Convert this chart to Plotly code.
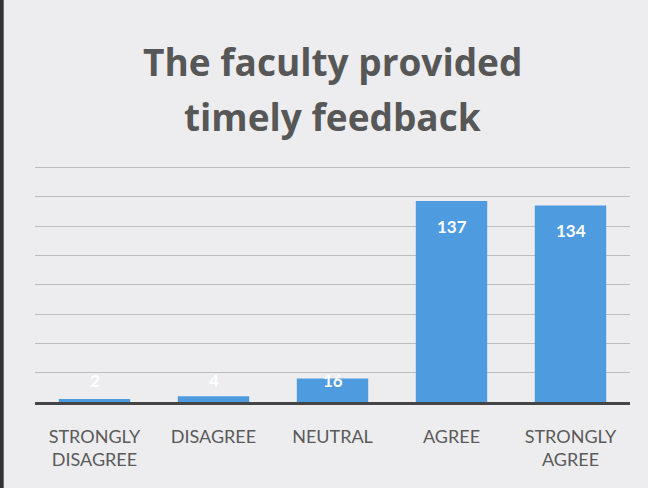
import plotly.graph_objects as go

categories = ["STRONGLY<br>DISAGREE", "DISAGREE", "NEUTRAL", "AGREE", "STRONGLY<br>AGREE"]
values = [2, 4, 16, 137, 134]
title_lines = ["The faculty provided", "timely feedback"]

Y_MAX = 163
PLOT_H = 239
PLOT_BOTTOM = 402
px_per_unit = PLOT_H / Y_MAX

fig = go.Figure(go.Bar(
    x=categories, y=values,
    marker=dict(color="#4f9be0", line=dict(width=0)),
    width=0.6,
    hoverinfo="x+y",
))

# value labels: inside end, lifted above axis when the bar is too short
for c, v in zip(categories, values):
    bar_px = v * px_per_unit
    if bar_px >= 47:
        fig.add_annotation(x=c, y=v, yref="y", xref="x", text="<b>%d</b>" % v,
                           showarrow=False, yanchor="middle", yshift=-25,
                           font=dict(family="Lato", size=17, color="white"))
    else:
        fig.add_annotation(x=c, y=0, yref="y", xref="x", text="<b>%d</b>" % v,
                           showarrow=False, yanchor="middle", yshift=22,
                           font=dict(family="Lato", size=17, color="white"))

fig.update_layout(
    width=648, height=488,
    margin=dict(l=35, r=18, t=488 - 86 - PLOT_H, b=86),
    paper_bgcolor="#ededef",
    plot_bgcolor="#ededef",
    showlegend=False,
    xaxis=dict(
        showline=True, linecolor="#454545", linewidth=3,
        tickfont=dict(family="Lato", size=18, color="#5a5a5a"),
        ticklabelstandoff=16, showgrid=False, automargin=False,
    ),
    yaxis=dict(
        range=[0, Y_MAX], dtick=20, showticklabels=False,
        showgrid=True, gridcolor="#bdbdbd", gridwidth=1,
        zeroline=False, showline=False, automargin=False,
    ),
)
for line, py in zip(title_lines, [61, 116]):
    fig.add_annotation(
        text="<b>" + line + "</b>", showarrow=False,
        xref="paper", yref="paper", x=0.5, y=(PLOT_BOTTOM - py) / PLOT_H,
        xanchor="center", yanchor="middle",
        font=dict(family="Open Sans", size=37, color="#575757"),
    )
fig.add_shape(type="line", xref="paper", yref="paper", x0=-0.056, x1=-0.056, y0=-0.4, y1=1.8,
              line=dict(color="#333333", width=4))

fig.write_html("out.html", config={"displayModeBar": False},
               post_script="document.body.style.margin='0';")
